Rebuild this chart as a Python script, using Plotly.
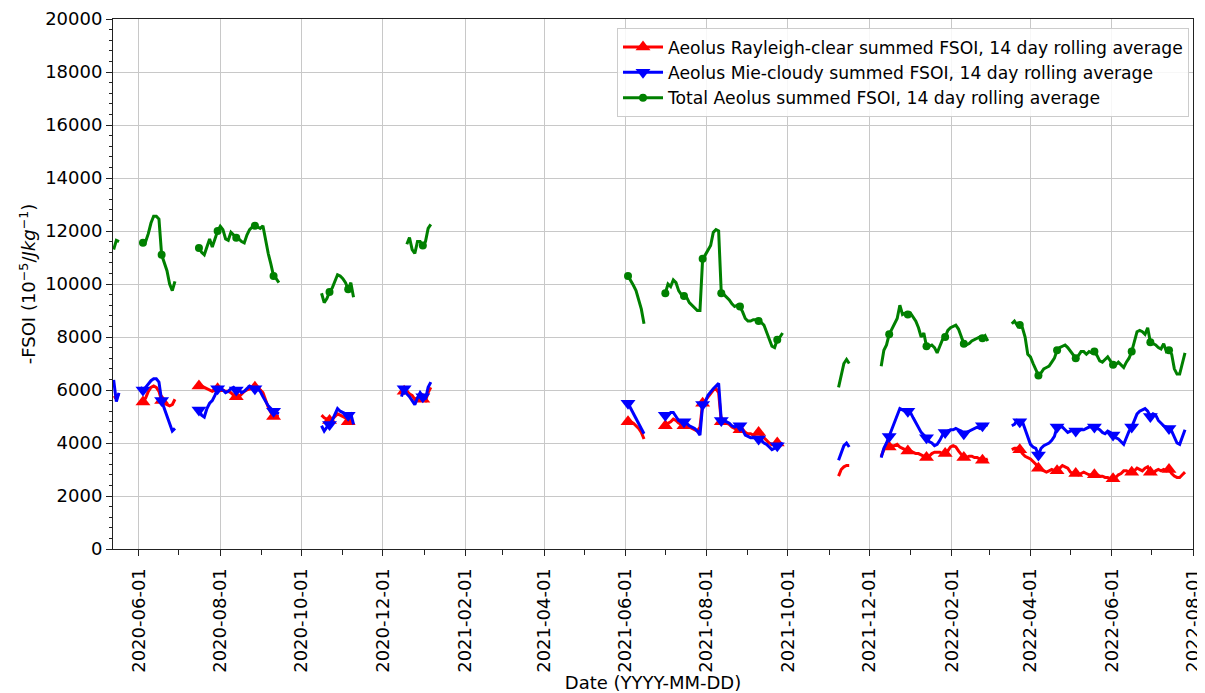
import pandas as pd
import plotly.graph_objects as go

# ---- data (14-day rolling average, sampled every 2 days, one list per observing period) ----
SEG_START = ["2020-05-13", "2020-06-02", "2020-07-16", "2020-10-16", "2020-12-15",
             "2021-06-03", "2021-07-01", "2021-11-08", "2021-12-10", "2022-03-18"]
STEP_DAYS = 2
MARKER_REF = "2020-06-04"
MARKER_EVERY_DAYS = 14

RAYLEIGH = [
    [5700, 5750, 5850],
    [5500, 5550, 5700, 5950, 6100, 6150, 6100, 5950, 5600, 5500, 5450, 5400, 5450, 5650],
    [6150, 6150, 6100, 6050, 6000, 5950, 6000, 6050, 6050, 6000, 5950, 5950, 5900, 5800, 5750, 5750,
     5850, 5950, 6000, 6050, 6100, 6100, 6050, 6000, 5900, 5600, 5350, 5150, 5000, 5000, 5000],
    [5050, 4950, 4900, 4850, 4900, 5000, 5100, 5050, 5000, 4950, 4800, 4850, 4800],
    [5850, 5950, 5900, 5850, 5800, 5650, 5700, 5750, 5650, 5600, 5900, 6100],
    [4800, 4800, 4750, 4650, 4550, 4400, 4150],
    [4650, 4750, 4800, 4900, 4850, 4750, 4700, 4650, 4650, 4600, 4550, 4500, 4450, 4600, 5500, 5600,
     5750, 5900, 6000, 6050, 5900, 4800, 4800, 4750, 4700, 4600, 4550, 4500, 4500, 4450, 4400, 4350,
     4350, 4300, 4350, 4400, 4300, 4200, 4100, 4000, 3950, 3950, 4000, 3950, 3950],
    [2750, 3000, 3100, 3150, 3150],
    [3500, 3750, 3850, 3850, 3900, 3900, 3950, 3850, 3800, 3750, 3700, 3700, 3650, 3600, 3600, 3550,
     3500, 3450, 3500, 3600, 3650, 3650, 3650, 3600, 3600, 3700, 3850, 3900, 3850, 3700, 3550, 3450,
     3450, 3500, 3500, 3450, 3450, 3400, 3350, 3350, 3400],
    [3750, 3800, 3800, 3750, 3600, 3500, 3450, 3400, 3300, 3200, 3050, 3000, 2950, 2900, 2950, 3000,
     2950, 2950, 3050, 3150, 3100, 3050, 2900, 2850, 2850, 2800, 2850, 2900, 2850, 2800, 2800, 2800,
     2800, 2750, 2750, 2700, 2700, 2650, 2650, 2700, 2800, 2850, 2950, 2950, 2900, 2900, 2950, 3050,
     3000, 2950, 3050, 3100, 2900, 2850, 2950, 3000, 2950, 3000, 2950, 3000, 2850, 2750, 2700, 2700,
     2800, 2900],
]

MIE = [
    [6380, 5560, 5890],
    [6100, 6000, 6100, 6250, 6350, 6420, 6420, 6300, 5600, 5300, 5000, 4700, 4450, 4550],
    [5250, 5050, 4980, 5300, 5500, 5600, 5800, 6050, 6050, 6000, 5900, 5950, 6050, 6100, 6000, 6000,
     5900, 5950, 6050, 6150, 6100, 6050, 6050, 5950, 5750, 5550, 5400, 5300, 5200, 5150, 5100],
    [4650, 4450, 4600, 4700, 4850, 5050, 5300, 5200, 5150, 5100, 5050, 5100, 4700],
    [5750, 6050, 5850, 5750, 5600, 5450, 5700, 5900, 5750, 5650, 6100, 6300],
    [5500, 5300, 5100, 4900, 4700, 4500, 4350],
    [5050, 5050, 5150, 5150, 5000, 4850, 4800, 4800, 4750, 4650, 4600, 4550, 4450, 4300, 5450, 5550,
     5800, 5950, 6050, 6150, 6250, 4850, 4850, 4800, 4750, 4650, 4600, 4650, 4650, 4500, 4300, 4250,
     4200, 4200, 4200, 4150, 4100, 4000, 3950, 3850, 3750, 3800, 3900, 3950, 4000],
    [3350, 3650, 3900, 4000, 3850],
    [3450, 3800, 4000, 4250, 4500, 4750, 5050, 5300, 5250, 5200, 5200, 5150, 4950, 4750, 4600, 4400,
     4300, 4200, 4050, 4000, 3900, 3950, 4100, 4300, 4400, 4450, 4500, 4500, 4550, 4500, 4450, 4350,
     4400, 4450, 4500, 4550, 4600, 4550, 4650, 4700, 4650],
    [4650, 4700, 4850, 4800, 4800, 4500, 4250, 3950, 3850, 3800, 3550, 3800, 3900, 3950, 4000, 4100,
     4250, 4600, 4600, 4600, 4500, 4400, 4450, 4500, 4450, 4450, 4500, 4500, 4550, 4600, 4600, 4600,
     4550, 4500, 4400, 4350, 4450, 4400, 4300, 4200, 4150, 4050, 3950, 4200, 4450, 4600, 4850, 5100,
     5200, 5250, 5300, 5200, 5000, 5100, 5050, 4850, 4750, 4650, 4600, 4550, 4450, 4250, 4000, 3950,
     4250, 4500],
]

TOTAL = [
    [11300, 11650, 11600],
    [11550, 11560, 11600, 11900, 12300, 12560, 12560, 12450, 11100, 10800, 10500, 10000, 9750, 10100],
    [11360, 11200, 11100, 11450, 11700, 11400, 11750, 12000, 12180, 12050, 11700, 11650, 11950, 11850,
     11750, 11700, 11600, 11550, 11850, 12050, 12150, 12200, 12150, 12100, 12200, 11600, 11150, 10750,
     10300, 10200, 10050],
    [9650, 9300, 9450, 9700, 9850, 10100, 10350, 10300, 10200, 10050, 9800, 10050, 9500],
    [None, None, 11500, 11750, 11300, 11150, 11600, 11600, 11450, 11600, 12100, 12250],
    [10300, 10150, 9950, 9750, 9350, 9050, 8500],
    [9650, 10000, 9900, 10150, 10050, 9750, 9600, 9550, 9500, 9300, 9200, 9100, 9000, 9000, 10950,
     11100, 11300, 11450, 11950, 12050, 12000, 9650, 9600, 9500, 9400, 9250, 9150, 9200, 9150, 8950,
     8700, 8600, 8600, 8650, 8650, 8600, 8550, 8450, 8200, 7900, 7650, 7600, 7900, 8000, 8150],
    [6100, 6600, 7000, 7150, 7000],
    [6900, 7500, 7700, 8100, 8300, 8500, 8700, 9200, 8850, 8900, 8850, 8900, 8750, 8600, 8350, 8000,
     8150, 7650, 7650, 7700, 7600, 7400, 7650, 7900, 8000, 8250, 8350, 8400, 8450, 8300, 8050, 7750,
     7700, 7750, 7850, 7900, 7950, 8000, 7950, 8050, 7850],
    [8500, 8600, 8450, 8450, 8350, 8000, 7350, 7250, 7000, 6750, 6550, 6650, 6800, 6850, 6900, 7050,
     7200, 7500, 7600, 7650, 7700, 7600, 7450, 7350, 7200, 7300, 7450, 7450, 7350, 7450, 7400, 7450,
     7300, 7100, 7050, 7150, 7250, 7100, 6950, 6950, 7050, 6950, 6850, 7050, 7200, 7450, 7800, 8200,
     8250, 8200, 8100, 8350, 7800, 7750, 7700, 7600, 7550, 7750, 7450, 7500, 7350, 6800, 6600, 6600,
     7000, 7400],
]

NAMES = ["Aeolus Rayleigh-clear summed FSOI, 14 day rolling average",
         "Aeolus Mie-cloudy summed FSOI, 14 day rolling average",
         "Total Aeolus summed FSOI, 14 day rolling average"]
COLORS = ["#ff0000", "#0000ff", "#008000"]
SYMBOLS = ["triangle-up", "triangle-down", "circle"]
MSIZES = [13, 13, 8]

X_RANGE = ["2020-05-12 12:00", "2022-08-01"]
Y_RANGE = [0, 20000]


def build(series):
    xs, ys, mx, my = [], [], [], []
    ref = pd.Timestamp(MARKER_REF)
    for start, vals in zip(SEG_START, series):
        dates = pd.date_range(start, periods=len(vals), freq=f"{STEP_DAYS}D")
        for d, v in zip(dates, vals):
            xs.append(d)
            ys.append(v)
            if v is not None and (d - ref).days % MARKER_EVERY_DAYS == 0:
                mx.append(d)
                my.append(v)
        xs.append(dates[-1] + pd.Timedelta(days=1))
        ys.append(None)
    return xs, ys, mx, my


FONT = "DejaVu Sans, Verdana, sans-serif"
fig = go.Figure()

for series, name, col, sym, ms in zip([RAYLEIGH, MIE, TOTAL], NAMES, COLORS, SYMBOLS, MSIZES):
    xs, ys, mx, my = build(series)
    fig.add_trace(go.Scatter(x=xs, y=ys, mode="lines", line=dict(color=col, width=3),
                             connectgaps=False, showlegend=False, hoverinfo="skip"))
    fig.add_trace(go.Scatter(x=mx, y=my, mode="markers",
                             marker=dict(symbol=sym, size=ms, color=col, line=dict(width=0)),
                             showlegend=False))
    fig.add_trace(go.Scatter(x=[None], y=[None], mode="lines+markers", name=name,
                             line=dict(color=col, width=3),
                             marker=dict(symbol=sym, size=ms, color=col, line=dict(width=0))))

axis_common = dict(showline=True, linecolor="#222222", linewidth=1, mirror=True,
                   ticks="outside", ticklen=6, tickwidth=1, tickcolor="#222222",
                   showgrid=True, gridcolor="#c8c8c8", gridwidth=1, zeroline=False,
                   automargin=False,
                   tickfont=dict(family=FONT, size=18, color="#000000"))

fig.update_xaxes(type="date", range=X_RANGE, dtick="M2", tick0="2020-06-01",
                 tickformat="%Y-%m-%d", tickangle=-90, ticklabelstandoff=5,
                 minor=dict(dtick="M1", tick0="2020-06-01", ticks="outside", ticklen=5,
                            tickcolor="#222222", showgrid=False),
                 title=dict(text="Date (YYYY-MM-DD)", font=dict(family=FONT, size=18, color="#000"),
                            standoff=5),
                 **axis_common)
fig.update_yaxes(range=Y_RANGE, dtick=2000, tick0=0, tickformat="d",
                 minor=dict(dtick=400, ticks="outside", ticklen=3.5, tickcolor="#222222", showgrid=False),
                 title=dict(text="-FSOI (10<sup>\u22125</sup>/<i>Jkg</i><sup>\u22121</sup>)",
                            font=dict(family=FONT, size=18, color="#000"), standoff=4),
                 **axis_common)

# page body has an 8px margin: figure is sized/offset so the plot lands where the reference's does
fig.update_layout(
    width=1197, height=685, autosize=False,
    margin=dict(l=105, r=12, t=11, b=144, pad=0),
    paper_bgcolor="white", plot_bgcolor="white",
    font=dict(family=FONT, size=18, color="#000"),
    legend=dict(x=0.9963, y=0.9825, xanchor="right", yanchor="top",
                bgcolor="rgba(255,255,255,0.85)", bordercolor="#cccccc", borderwidth=1,
                font=dict(family=FONT, size=17.2, color="#000"), tracegroupgap=0,
                itemwidth=40),
    showlegend=True,
)

fig.write_html("out.html")
